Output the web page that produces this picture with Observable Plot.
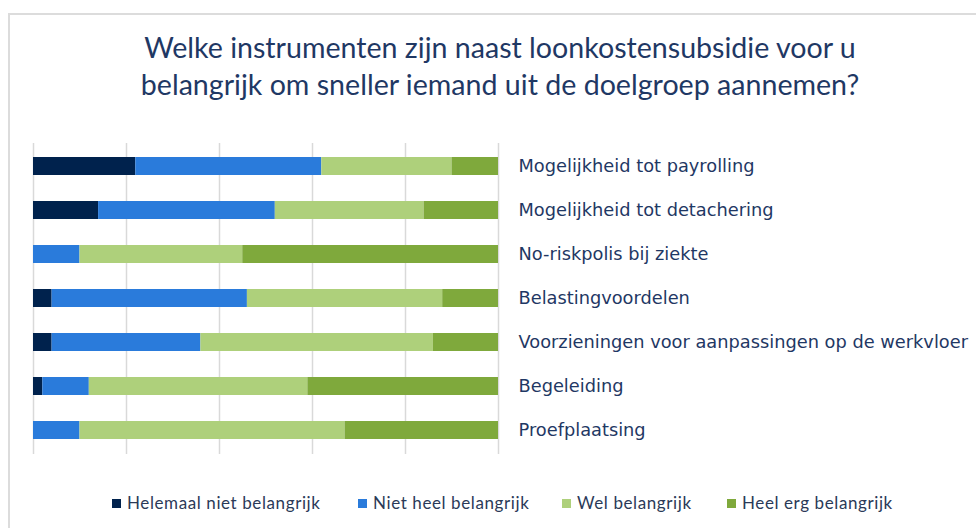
<!DOCTYPE html>
<html>
<head>
<meta charset="utf-8">
<script src="https://cdn.jsdelivr.net/npm/d3@7"></script>
<script src="https://cdn.jsdelivr.net/npm/@observablehq/plot@0.6"></script>
<style>
  html, body { margin: 0; padding: 0; background: #fff; }
  body { width: 976px; height: 528px; overflow: hidden; position: relative; }
  #frame { position: absolute; left: 8px; top: 13px; width: 990px; height: 530px;
           border-left: 2px solid #dcdcdc; border-top: 2px solid #dcdcdc; box-sizing: border-box; }
  #title { position: absolute; left: 0; top: 29px; width: 1000px; text-align: center;
           font-family: Lato, sans-serif; font-size: 28.6px; line-height: 37px; color: #1f3864; }
  #chart { position: absolute; left: 0; top: 130px; }
  #legend { position: absolute; left: 0; top: 493px; width: 976px; height: 20px;
            font-family: Lato, sans-serif; font-size: 17px; letter-spacing: 0.6px; color: #2b3a58; }
  .item { position: absolute; top: 0; white-space: nowrap; line-height: 20px; }
  .sw { display: inline-block; width: 9px; height: 9px; margin-right: 6px; vertical-align: 1px; }
</style>
</head>
<body>
<div id="frame"></div>
<div id="title">Welke instrumenten zijn naast loonkostensubsidie voor u<br>belangrijk om sneller iemand uit de doelgroep aannemen?</div>
<div id="chart"></div>
<div id="legend"></div>
<script>
const categories = [
  "Mogelijkheid tot payrolling",
  "Mogelijkheid tot detachering",
  "No-riskpolis bij ziekte",
  "Belastingvoordelen",
  "Voorzieningen voor aanpassingen op de werkvloer",
  "Begeleiding",
  "Proefplaatsing"
];
const seriesNames = ["Helemaal niet belangrijk", "Niet heel belangrijk", "Wel belangrijk", "Heel erg belangrijk"];
const helemaalNiet = [22, 14, 0, 4, 4, 2, 0];
const nietHeel     = [40, 38, 10, 42, 32, 10, 10];
const wel          = [28, 32, 35, 42, 50, 47, 57];
const heelErg      = [10, 16, 55, 12, 14, 41, 33];
const colors = ["#00224d", "#2a7bdb", "#aed07b", "#7fa93c"];
const xTicks = [0, 20, 40, 60, 80, 100];

const seriesValues = [helemaalNiet, nietHeel, wel, heelErg];
const rows = [];
categories.forEach((c, i) => {
  seriesNames.forEach((s, j) => rows.push({category: c, series: s, value: seriesValues[j][i]}));
});

const plot = Plot.plot({
  width: 976,
  height: 340,
  marginTop: 13,
  marginBottom: 16,
  marginLeft: 33,
  marginRight: 478,
  x: {domain: [0, 100], axis: null},
  y: {domain: categories, paddingInner: 0.59, paddingOuter: 0.32, label: null},
  color: {domain: seriesNames, range: colors},
  style: {fontFamily: "'DejaVu Sans', sans-serif"},
  marks: [
    Plot.ruleX(xTicks, {stroke: "#d9d9d9", strokeWidth: 1.5}),
    Plot.barX(rows, Plot.stackX({x: "value", y: "category", fill: "series", order: seriesNames})),
    Plot.axisY({anchor: "right", tickSize: 0, tickPadding: 20, textAnchor: "start",
                fontSize: 17.8, fill: "#1f3864", label: null})
  ]
});
document.getElementById("chart").appendChild(plot);

const legendX = [112, 358, 562, 727];
const legend = document.getElementById("legend");
seriesNames.forEach((s, i) => {
  const d = document.createElement("div");
  d.className = "item";
  d.style.left = legendX[i] + "px";
  d.innerHTML = `<span class="sw" style="background:${colors[i]}"></span>${s}`;
  legend.appendChild(d);
});
</script>
</body>
</html>
